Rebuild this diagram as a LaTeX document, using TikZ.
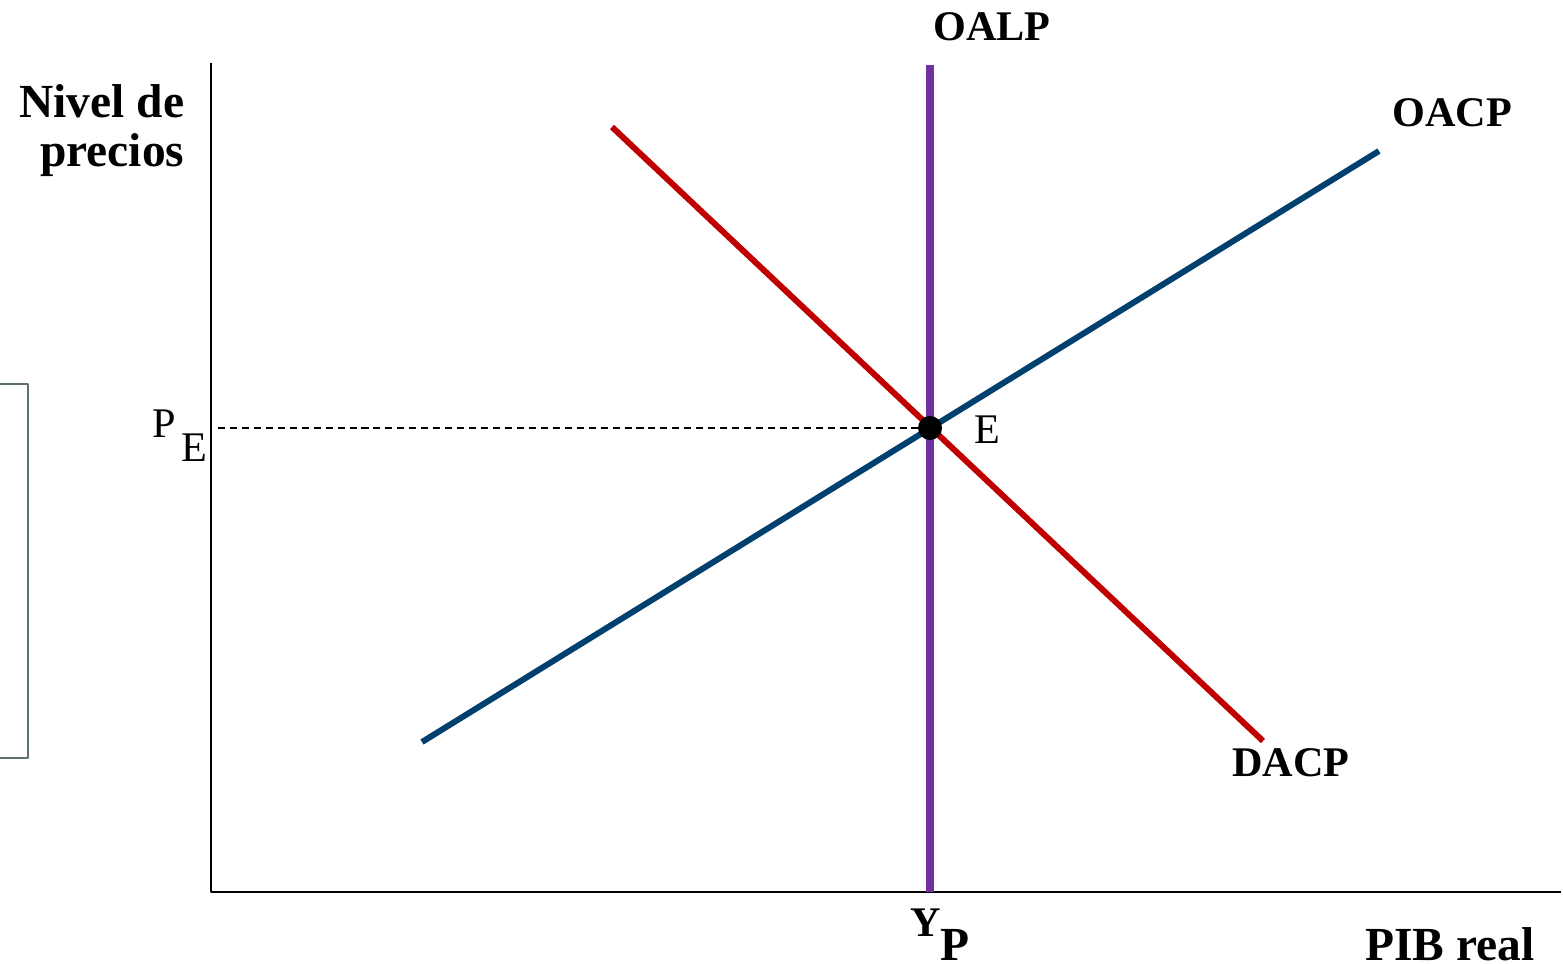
\documentclass[tikz,border=0pt]{standalone}
\usepackage{fontspec}
\setmainfont{Liberation Serif}
\usetikzlibrary{positioning}
\definecolor{rojo}{RGB}{192,0,0}
\definecolor{azul}{RGB}{0,64,110}
\definecolor{morado}{RGB}{112,48,160}
\definecolor{grisbox}{RGB}{95,115,105}
\begin{document}
\begin{tikzpicture}[x=0.01cm, y=-0.01cm, line join=round,
	curva/.style={line width=1.7pt},
	etiq/.style={font=\fontsize{12}{14}\selectfont\bfseries, inner sep=0pt, anchor=base},
	titulo/.style={font=\fontsize{13.5}{15}\selectfont\bfseries, inner sep=0pt, anchor=base},
	texto/.style={font=\fontsize{12}{14}\selectfont, inner sep=0pt, anchor=base}]
	\useasboundingbox (0,0) rectangle (1563,964);
	% --- Recuadro lateral ---
	\draw[grisbox, line width=0.4pt] (-20,384) rectangle (28,758);
	
	% --- Ejes ---
	\coordinate (origen) at (211,892);
	\coordinate (ytope) at (211,63);
	\coordinate (xfin) at (1561,892);
	\draw[line width=0.6pt] (ytope) -- (origen) -- (xfin);
	\node[titulo, anchor=base east] (nivel) at (185,118) {Nivel de};
	\node[titulo, anchor=base east] (precios) at (185,167) {precios};
	\node[titulo] (pib) at (1450,960) {PIB real};
	
	% --- Curvas ---
	\coordinate (E) at (930,428);
	\coordinate (oalpA) at (930,65);
	\coordinate (oalpB) at (930,892);
	\coordinate (dacpA) at (612,127);
	\coordinate (dacpB) at (1263,741);
	\coordinate (oacpA) at (422,742);
	\coordinate (oacpB) at (1379,151);
	\draw[morado, line width=2pt] (oalpA) -- (oalpB);
	\draw[curva, rojo] (dacpA) -- (dacpB);
	\draw[curva, azul] (oacpA) -- (oacpB);
	\node[etiq] (oalp) at (992,41) {OALP};
	\node[etiq] (oacp) at (1452,127) {OACP};
	\node[etiq] (dacp) at (1291,777) {DACP};
	
	% --- Equilibrio y guías ---
	\coordinate (pe) at (218,428);
	\draw[dashed, dash pattern=on 2pt off 1.4pt, line width=0.45pt] (pe) -- (E);
	\fill (E) circle (0.12cm);
	\node[texto] (elab) at (987,444) {E};
	\node[texto] (pP) at (164,438) {P};
	\node[texto] (pE) at (194,462) {E};
	\node[etiq] (yY) at (926,936) {Y};
	\node[titulo] (yP) at (955,960) {P};
\end{tikzpicture}
\end{document}
